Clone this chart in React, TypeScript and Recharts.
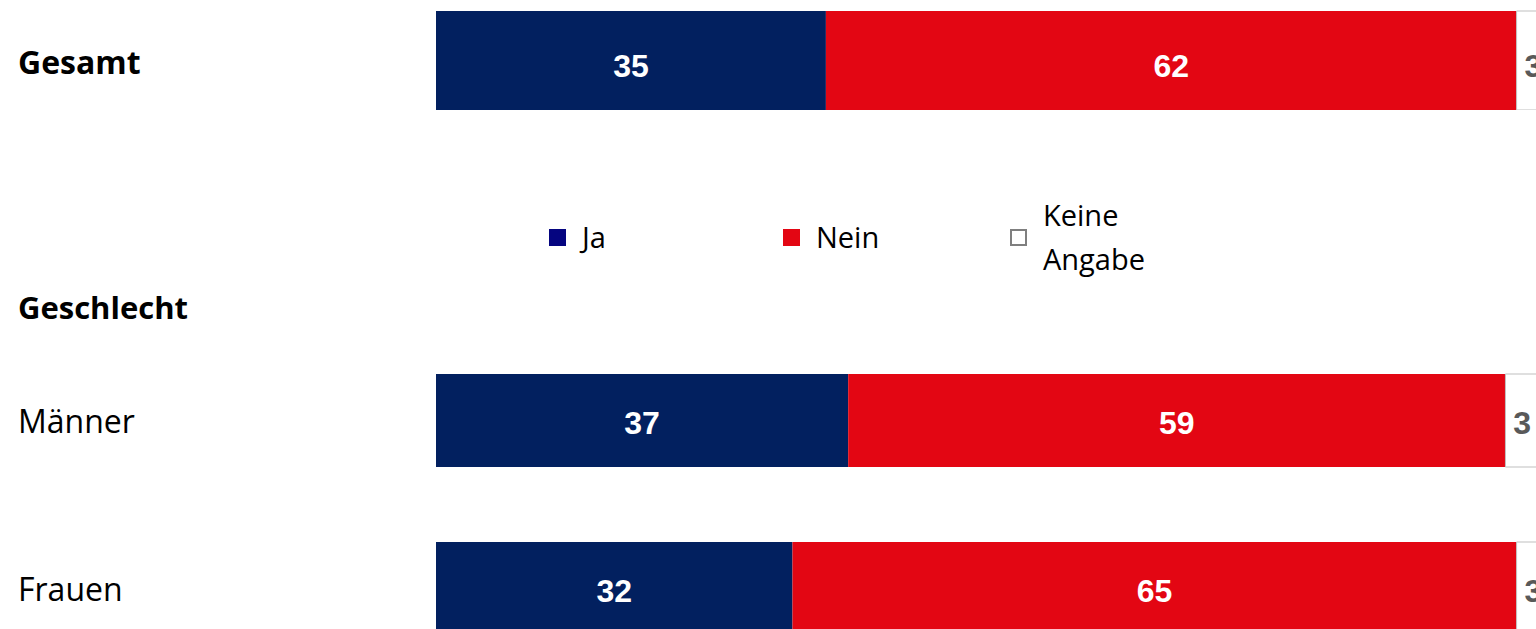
import React from 'react';
import { BarChart, Bar, XAxis, YAxis, Legend, LabelList } from 'recharts';

// values in percent, per row
const totalRows = ['Gesamt'];
const genderRows = ['Männer', 'Frauen'];
const jaValues = [35, 37, 32];
const neinValues = [62, 59, 65];
const keineValues = [3, 3, 3];
const seriesNames = ['Ja', 'Nein', 'Keine Angabe'];

const NAVY = '#02205F';
const RED = '#E30613';
const GREY_TEXT = '#595959';
const legendFill: Record<string, string> = { ja: '#050580', nein: RED, keine: '#FFFFFF' };

const buildRows = (names: string[], offset: number) =>
  names.map((name, i) => ({
    name,
    ja: jaValues[offset + i],
    nein: neinValues[offset + i],
    keine: keineValues[offset + i],
  }));

const totalData = buildRows(totalRows, 0);
const genderData = buildRows(genderRows, 1);

const TEXT_FONT = '"Open Sans", sans-serif';
const NUM_FONT = '"Liberation Sans", Arial, sans-serif';

const makeTick = (bold: boolean) => (props: any) => {
  const { y, payload } = props;
  return (
    <text x={18} y={y + 13} fontSize={32} fontFamily={TEXT_FONT} fontWeight={bold ? 700 : 400} fill="#000" textAnchor="start">
      {payload.value}
    </text>
  );
};

const makeLabel = (color: string, shift: number) => (props: any) => {
  const { x, y, width, height, value } = props;
  return (
    <text
      x={x + width / 2}
      y={y + height / 2 + shift}
      textAnchor="middle"
      dominantBaseline="central"
      fontSize={32}
      fontWeight={700}
      fontFamily={NUM_FONT}
      fill={color}
    >
      {value}
    </text>
  );
};

const LegendBox = (props: any) => {
  const items = [...(props.payload || [])].sort(
    (a: any, b: any) => seriesNames.indexOf(a.value) - seriesNames.indexOf(b.value)
  );
  return (
    <div style={{ display: 'flex', fontFamily: TEXT_FONT, fontSize: 29, color: '#000' }}>
      {items.map((it: any, i: number) => (
        <div key={it.dataKey} style={{ width: i === 0 ? 234 : 227, display: 'flex', alignItems: 'center' }}>
          <span
            style={{
              width: 17,
              height: 17,
              boxSizing: 'border-box',
              background: legendFill[it.dataKey],
              border: it.dataKey === 'keine' ? '2px solid #7F7F7F' : 'none',
              marginRight: 16,
              flex: 'none',
            }}
          />
          <span style={{ maxWidth: 130, lineHeight: '44px' }}>{it.value}</span>
        </div>
      ))}
    </div>
  );
};

const series = (shift: number) => [
  <Bar key="ja" dataKey="ja" name={seriesNames[0]} stackId="s" fill={NAVY} isAnimationActive={false}>
    <LabelList dataKey="ja" content={makeLabel('#FFFFFF', shift)} />
  </Bar>,
  <Bar key="nein" dataKey="nein" name={seriesNames[1]} stackId="s" fill={RED} isAnimationActive={false}>
    <LabelList dataKey="nein" content={makeLabel('#FFFFFF', shift)} />
  </Bar>,
  <Bar key="keine" dataKey="keine" name={seriesNames[2]} stackId="s" fill="#FFFFFF" stroke="#BFBFBF" strokeWidth={1} isAnimationActive={false}>
    <LabelList dataKey="keine" content={makeLabel(GREY_TEXT, shift)} />
  </Bar>,
];

export default function App() {
  return (
    <div style={{ position: 'absolute', left: 0, top: 0, width: 1536, height: 629, overflow: 'hidden', background: '#fff' }}>
      <div style={{ position: 'absolute', left: 0, top: 0 }}>
        <BarChart
          width={1550}
          height={110}
          data={totalData}
          layout="vertical"
          margin={{ top: 11, right: 0, bottom: 0, left: 0 }}
          barCategoryGap={0}
        >
          <XAxis type="number" domain={[0, 100]} hide />
          <YAxis type="category" dataKey="name" width={436} axisLine={false} tickLine={false} tick={makeTick(true)} />
          {series(5)}
          <Legend
            layout="horizontal"
            verticalAlign="middle"
            align="center"
            content={<LegendBox />}
            wrapperStyle={{ position: 'absolute', top: 193, left: 549, width: 720 }}
          />
        </BarChart>
      </div>
      <div
        style={{
          position: 'absolute',
          left: 18,
          top: 292,
          fontFamily: TEXT_FONT,
          fontWeight: 700,
          fontSize: 31,
          lineHeight: '31px',
          color: '#000',
          whiteSpace: 'nowrap',
        }}
      >
        Geschlecht
      </div>
      <div style={{ position: 'absolute', left: 0, top: 336 }}>
        <BarChart
          width={1550}
          height={336}
          data={genderData}
          layout="vertical"
          margin={{ top: 0, right: 0, bottom: 0, left: 0 }}
          barSize={93}
        >
          <XAxis type="number" domain={[0, 100]} hide />
          <YAxis type="category" dataKey="name" width={436} axisLine={false} tickLine={false} tick={makeTick(false)} />
          {series(2)}
        </BarChart>
      </div>
    </div>
  );
}
